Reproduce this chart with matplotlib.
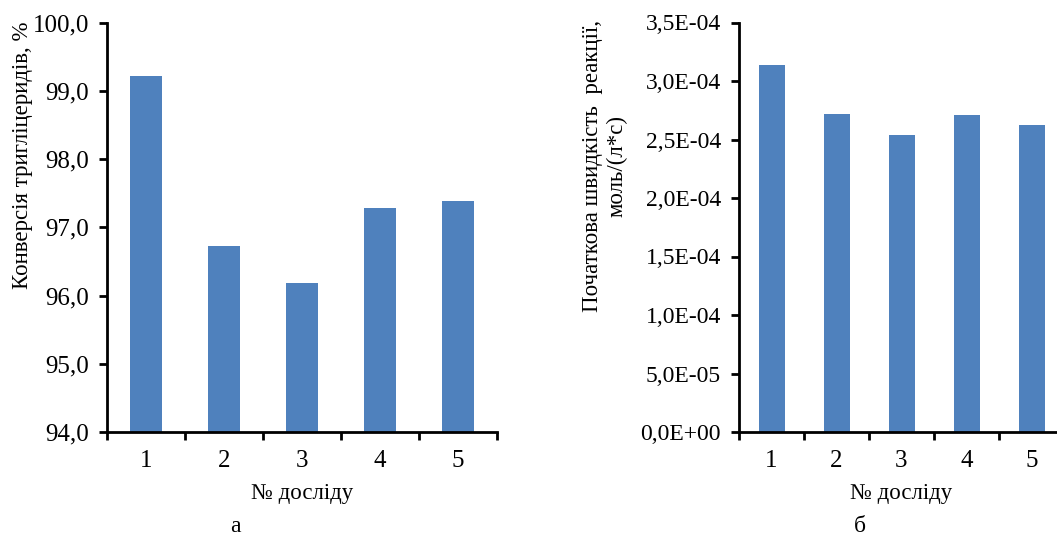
import matplotlib
matplotlib.use('Agg')
import matplotlib.pyplot as plt
from matplotlib.ticker import FixedLocator, FuncFormatter

# data
experiments = ['1', '2', '3', '4', '5']
conversion = [99.22, 96.72, 96.19, 97.28, 97.38]          # %
rate = [3.14e-4, 2.72e-4, 2.54e-4, 2.71e-4, 2.62e-4]     # моль/(л*с)

plt.rcParams['font.family'] = ['Liberation Serif', 'DejaVu Serif']
plt.rcParams['font.size'] = 16.5

bar_color = '#4F81BD'
fig = plt.figure(figsize=(10.57, 5.39), dpi=100)

ax1 = fig.add_axes([107 / 1057, 107 / 539, 390 / 1057, 409.5 / 539])
ax2 = fig.add_axes([739 / 1057, 107 / 539, 325 / 1057, 409.5 / 539])


def style(ax, ysize, ypad):
    for s in ['top', 'right']:
        ax.spines[s].set_visible(False)
    for s in ['left', 'bottom']:
        ax.spines[s].set_linewidth(2)
    x = range(1, len(experiments) + 1)
    ax.set_xlim(0.5, len(experiments) + 0.5)
    ax.xaxis.set_major_locator(FixedLocator([i + 0.5 for i in range(len(experiments) + 1)]))
    ax.xaxis.set_minor_locator(FixedLocator(list(x)))
    ax.set_xticklabels([])
    ax.set_xticklabels(experiments, minor=True)
    ax.tick_params(axis='x', which='major', direction='out', length=6, width=2)
    ax.tick_params(axis='x', which='minor', length=0, pad=13, labelsize=18)
    ax.tick_params(axis='y', direction='out', length=6, width=2, pad=ypad, labelsize=ysize)
    ax.set_xlabel('№ досліду', labelpad=8)


x = list(range(1, len(experiments) + 1))

ax1.bar(x, [v - 94 for v in conversion], bottom=94, width=0.4, color=bar_color)
ax1.set_ylim(94, 100)
ax1.set_yticks([94, 95, 96, 97, 98, 99, 100])
ax1.yaxis.set_major_formatter(FuncFormatter(lambda v, p: f'{v:.1f}'.replace('.', ',')))
style(ax1, 18, 7)
ax1.set_ylabel('Конверсія тригліцеридів, %')
ax1.yaxis.set_label_coords(-0.19, 0.676)

ax2.bar(x, rate, width=0.4, color=bar_color)
ax2.set_ylim(0, 3.5e-4)
ax2.set_yticks([i * 0.5e-4 for i in range(8)])


def sci_fmt(v, p):
    s = f'{v:.1E}'.replace('.', ',')
    return s


ax2.yaxis.set_major_formatter(FuncFormatter(sci_fmt))
style(ax2, 17, 7)
ax2.set_ylabel('Початкова швидкість  реакції,\nмоль/(л*с)')
ax2.yaxis.set_label_coords(-0.342, 0.65)

fig.text(235 / 1057, 1 - 527 / 539, 'а', ha='center', va='center', fontsize=17)
fig.text(860 / 1057, 1 - 527 / 539, 'б', ha='center', va='center', fontsize=17)

plt.savefig('out.png', dpi=100)
